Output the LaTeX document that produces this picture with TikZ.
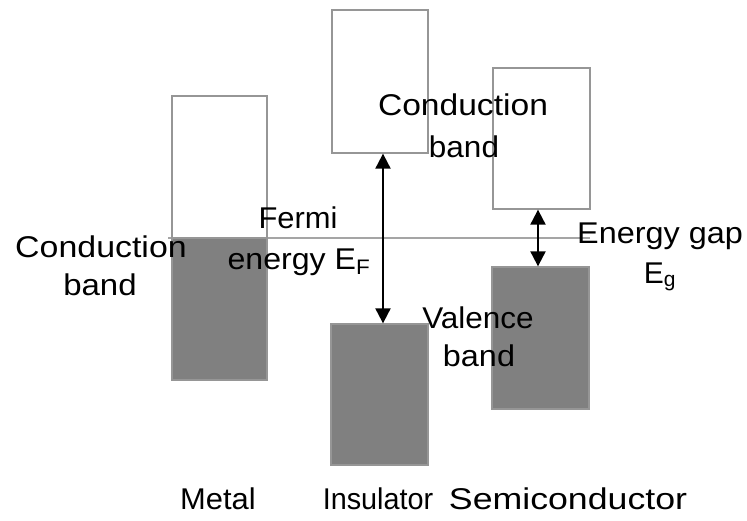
\documentclass[tikz,border=0pt]{standalone}
\usepackage{fontspec}
\usepackage{graphicx}
\setmainfont{Liberation Sans}
\usetikzlibrary{arrows.meta}
\definecolor{bandedge}{RGB}{150,150,150}
\definecolor{bandfill}{RGB}{128,128,128}
\definecolor{fermiline}{RGB}{165,165,165}
\newcommand{\wide}[2]{\scalebox{#1}[1]{#2}}
\tikzset{
  empty/.style={draw=bandedge, line width=1.3pt, fill=white, inner sep=0pt},
  filled/.style={draw=bandedge, line width=1.3pt, fill=bandfill, inner sep=0pt},
  lbl/.style={font=\fontsize{30}{36}\selectfont, inner sep=0pt, anchor=base},
  gaparrow/.style={line width=2pt, {Triangle[length=15pt,width=15pt]}-{Triangle[length=15pt,width=15pt]}}
}
\begin{document}
\begin{tikzpicture}[x=1pt,y=-1pt]
\useasboundingbox (0,0) rectangle (747,520);
% Fermi level line
\coordinate (fl) at (168,238);
\coordinate (fr) at (590,238);
\draw[fermiline, line width=1.8pt] (fl) -- (fr);
% Metal
\node[empty, minimum width=95pt, minimum height=142pt] (mc) at (219.5,167) {};
\node[filled, minimum width=95pt, minimum height=142pt] (mv) at (219.5,309) {};
% Insulator
\node[empty, minimum width=96pt, minimum height=143pt] (ic) at (380,81.5) {};
\node[filled, minimum width=97pt, minimum height=141pt] (iv) at (379.5,394.5) {};
% Semiconductor
\node[empty, minimum width=97pt, minimum height=141pt] (sc) at (541.5,138.5) {};
\node[filled, minimum width=97pt, minimum height=142pt] (sv) at (540.5,338) {};
% arrows
\draw[gaparrow] ([xshift=3pt]ic.south) -- ([xshift=3.5pt]iv.north);
\draw[gaparrow] ([xshift=-3.5pt]sc.south) -- ([xshift=-2.5pt]sv.north);
% labels
\node[lbl] (t1) at (101,257) {\wide{1.13}{Conduction}};
\node[lbl] (t2) at (100,295) {\wide{1.1}{band}};
\node[lbl] (t3) at (298,228) {\wide{1.03}{Fermi}};
\node[lbl] (t4) at (299,269) {\wide{1.07}{energy E\textsubscript{F}}};
\node[lbl] (t5) at (463,115) {\wide{1.12}{Conduction}};
\node[lbl] (t6) at (464,157) {\wide{1.05}{band}};
\node[lbl] (t7) at (478,328) {\wide{1.05}{Valence}};
\node[lbl] (t8) at (479,366) {\wide{1.08}{band}};
\node[lbl] (t9) at (660,243) {\wide{1.08}{Energy gap}};
\node[lbl] (t10) at (660,283) {E\textsubscript{g}};
\node[lbl] (t11) at (218,509) {\wide{1.03}{Metal}};
\node[lbl] (t12) at (378,509) {\wide{0.96}{Insulator}};
\node[lbl] (t13) at (568,509) {\wide{1.19}{Semiconductor}};
\end{tikzpicture}
\end{document}
